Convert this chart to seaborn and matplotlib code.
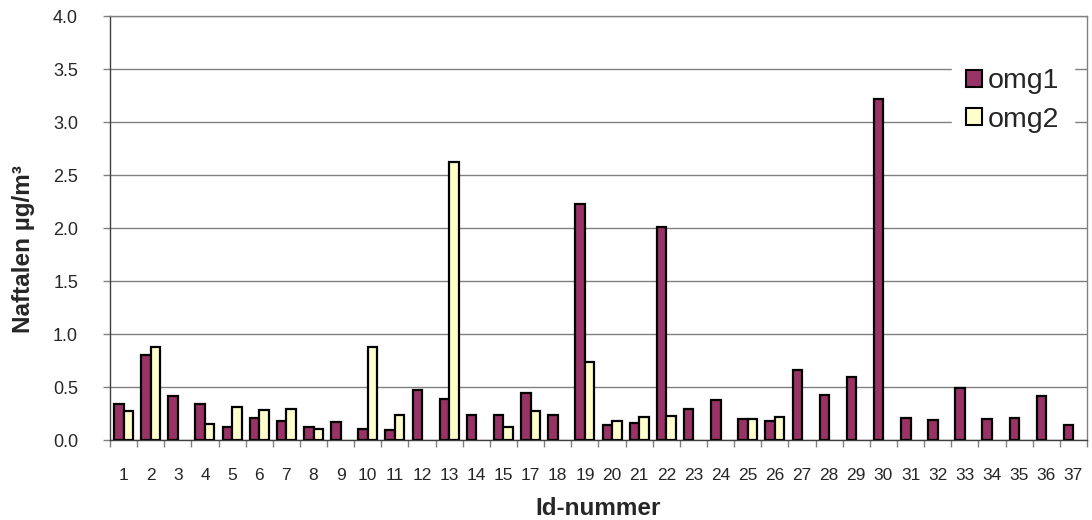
import numpy as np
import pandas as pd
import seaborn as sns
import matplotlib.pyplot as plt
from matplotlib.patches import Patch

# Id numbers (no 16 in the data)
ids = ['1', '2', '3', '4', '5', '6', '7', '8', '9', '10', '11', '12', '13', '14', '15',
       '17', '18', '19', '20', '21', '22', '23', '24', '25', '26', '27', '28', '29', '30',
       '31', '32', '33', '34', '35', '36', '37']
omg1 = [0.34, 0.80, 0.42, 0.34, 0.125, 0.21, 0.18, 0.12, 0.17, 0.105, 0.09, 0.475, 0.39, 0.235, 0.235,
        0.44, 0.235, 2.23, 0.14, 0.16, 2.01, 0.29, 0.375, 0.20, 0.175, 0.66, 0.425, 0.595, 3.22,
        0.205, 0.19, 0.49, 0.195, 0.21, 0.42, 0.14]
omg2 = [0.27, 0.88, np.nan, 0.15, 0.31, 0.28, 0.29, 0.10, np.nan, 0.88, 0.24, np.nan, 2.62, np.nan, 0.12,
        0.27, np.nan, 0.74, 0.18, 0.215, 0.225, np.nan, np.nan, 0.20, 0.22, np.nan, np.nan, np.nan, np.nan,
        np.nan, np.nan, np.nan, np.nan, np.nan, np.nan, np.nan]

df = pd.DataFrame({'id': ids, 'omg1': omg1, 'omg2': omg2})
df = df.melt(id_vars='id', var_name='serie', value_name='val')

colors = {'omg1': '#993366', 'omg2': '#FFFFCC'}

sns.set_style('white')
plt.rcParams['font.family'] = ['Liberation Sans', 'DejaVu Sans']

fig = plt.figure(figsize=(10.92, 5.2), dpi=100)
ax = fig.add_axes([0.1007, 0.1538, 0.8947, 0.8152])

sns.barplot(data=df, x='id', y='val', hue='serie', order=ids, palette=colors,
            width=0.7, edgecolor='black', linewidth=1.6, saturation=1,
            legend=False, ax=ax, zorder=3)

ax.set_ylim(0, 4.0)
ax.set_xlim(-0.5, len(ids) - 0.5)
ax.set_yticks(np.arange(0, 4.01, 0.5))
ax.set_yticklabels(['{:.1f}'.format(v) for v in np.arange(0, 4.01, 0.5)])
ax.yaxis.grid(True, color='#808080', linewidth=1, zorder=0)
ax.set_axisbelow(True)

# ticks between categories
ax.set_xticks(np.arange(-0.5, len(ids), 1), minor=True)
ax.tick_params(axis='x', which='major', length=0, labelsize=12.5, pad=20)
ax.tick_params(axis='x', which='minor', length=5, color='#808080', width=1, direction='out', bottom=True)
ax.tick_params(axis='y', length=5, color='#808080', width=1, direction='out', left=True,
               labelsize=13, pad=18)

for s in ['top', 'right']:
    ax.spines[s].set_color('#808080')
    ax.spines[s].set_linewidth(1)
for s in ['left', 'bottom']:
    ax.spines[s].set_color('#404040')
    ax.spines[s].set_linewidth(1)

ax.set_xlabel('Id-nummer', fontsize=17.5, fontweight='bold', labelpad=10)
ax.set_ylabel('Naftalen µg/m³', fontsize=17.5, fontweight='bold')
ax.yaxis.set_label_coords(-0.077, 0.45)

handles = [Patch(facecolor=colors[k], edgecolor='black', linewidth=1.5) for k in ['omg1', 'omg2']]
leg = ax.legend(handles, ['omg1', 'omg2'], loc='upper left',
                bbox_to_anchor=(952 / 1092, 1 - 54 / 520), bbox_transform=fig.transFigure,
                frameon=True, fontsize=20.5, handlelength=0.56, handleheight=0.56,
                handletextpad=0.21, labelspacing=0.44, borderpad=0.5, borderaxespad=0)
leg.get_frame().set_edgecolor('white')
leg.get_frame().set_facecolor('white')
leg.get_frame().set_alpha(1)
leg.get_frame().set_boxstyle('square', pad=0)

fig.savefig('out.png', dpi=100)
